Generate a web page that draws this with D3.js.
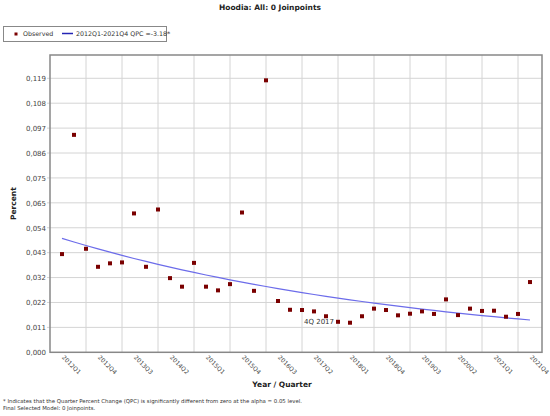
<!DOCTYPE html>
<html>
<head>
<meta charset="utf-8">
<script src="https://cdn.jsdelivr.net/npm/d3@7"></script>
<style>
  body { margin: 0; background: #fff; }
  svg { display: block; }
</style>
</head>
<body>
<script>
// quarters 2012Q1 .. 2021Q4
var quarters = [
  '2012Q1','2012Q2','2012Q3','2012Q4','2013Q1','2013Q2','2013Q3','2013Q4',
  '2014Q1','2014Q2','2014Q3','2014Q4','2015Q1','2015Q2','2015Q3','2015Q4',
  '2016Q1','2016Q2','2016Q3','2016Q4','2017Q1','2017Q2','2017Q3','2017Q4',
  '2018Q1','2018Q2','2018Q3','2018Q4','2019Q1','2019Q2','2019Q3','2019Q4',
  '2020Q1','2020Q2','2020Q3','2020Q4','2021Q1','2021Q2','2021Q3','2021Q4'
];

var observed = [
  0.0425, 0.0941, 0.0448, 0.0370, 0.0385, 0.0389, 0.0601, 0.0370,
  0.0618, 0.0321, 0.0284, 0.0387, 0.0284, 0.0268, 0.0295, 0.0605,
  0.0266, 0.1177, 0.0222, 0.0184, 0.0183, 0.0177, 0.0156, 0.0132,
  0.0128, 0.0156, 0.0189, 0.0183, 0.0160, 0.0167, 0.0177, 0.0166,
  0.0229, 0.0161, 0.0189, 0.0179, 0.0180, 0.0154, 0.0166, 0.0304
];

// fitted model, 0 joinpoints
var trendStart = 0.0493;
var qpc = -3.18;

var yTickValues = [0, 0.01078, 0.02156, 0.03234, 0.04312, 0.0539, 0.06468, 0.07546, 0.08624, 0.09702, 0.1078, 0.11858];
var yTickLabels = ['0,000','0,011','0,022','0,032','0,043','0,054','0,065','0,075','0,086','0,097','0,108','0,119'];

var xLabelQuarters = ['2012Q1','2012Q4','2013Q3','2014Q2','2015Q1','2015Q4','2016Q3','2017Q2','2018Q1','2018Q4','2019Q3','2020Q2','2021Q1','2021Q4'];
var xGridQuarters = ['2012Q3','2013Q2','2014Q1','2014Q4','2015Q3','2016Q2','2017Q1','2017Q4','2018Q3','2019Q2','2020Q1','2020Q4','2021Q3'];

var annotation = { quarter: '2017Q4', text: '4Q 2017' };

var width = 550, height = 416;
var plotLeft = 50, plotRight = 542, plotTop = 55, plotBottom = 352.3;

var svg = d3.select('body').append('svg')
    .attr('width', width)
    .attr('height', height)
    .style('font-family', 'DejaVu Sans, sans-serif');

var x = d3.scaleLinear()
    .domain([-1, quarters.length])
    .range([plotLeft, plotRight]);

var y = d3.scaleLinear()
    .domain([0, 0.12866])
    .range([plotBottom, plotTop]);

function qx(q) { return x(quarters.indexOf(q)); }

// grid
svg.append('g').selectAll('line')
    .data(yTickValues.slice(1))
    .enter().append('line')
        .attr('x1', plotLeft - 3).attr('x2', plotRight)
        .attr('y1', function(d) { return y(d) }).attr('y2', function(d) { return y(d) })
        .attr('stroke', '#d4d4d4').attr('stroke-width', 1);

svg.append('g').selectAll('line')
    .data(xGridQuarters)
    .enter().append('line')
        .attr('x1', function(d) { return qx(d) }).attr('x2', function(d) { return qx(d) })
        .attr('y1', plotTop).attr('y2', plotBottom)
        .attr('stroke', '#d4d4d4').attr('stroke-width', 1);

// frame
svg.append('rect')
    .attr('x', plotLeft).attr('y', plotTop)
    .attr('width', plotRight - plotLeft).attr('height', plotBottom - plotTop)
    .attr('fill', 'none').attr('stroke', '#888').attr('stroke-width', 1.5);

// y axis
var yAxis = d3.axisLeft(y)
    .tickValues(yTickValues)
    .tickSize(0)
    .tickPadding(4)
    .tickFormat(function(d, i) { return yTickLabels[i]; });

var gy = svg.append('g')
    .attr('transform', 'translate(' + plotLeft + ',0)')
    .call(yAxis);
gy.select('.domain').remove();
gy.selectAll('text')
    .style('font-family', 'DejaVu Sans, sans-serif')
    .style('font-size', '7px')
    .attr('fill', '#444');

// x axis labels
svg.append('g').selectAll('text')
    .data(xLabelQuarters)
    .enter().append('text')
        .attr('transform', function(d) { return 'translate(' + (qx(d) + 1) + ',' + (plotBottom + 4) + ') rotate(45)' })
        .attr('font-size', '6px')
        .attr('fill', '#444')
        .attr('dy', '0.35em')
        .text(function(d) { return d });

// trend
var trend = quarters.map(function(q, i) { return trendStart * Math.pow(1 + qpc / 100, i); });
var line = d3.line()
    .x(function(d, i) { return x(i) })
    .y(function(d) { return y(d) });

svg.append('path')
    .datum(trend)
    .attr('d', line)
    .attr('fill', 'none')
    .attr('stroke', '#6c6cea')
    .attr('stroke-width', 1.2);

// points
svg.append('g').selectAll('rect')
    .data(observed)
    .enter().append('rect')
        .attr('x', function(d, i) { return x(i) - 2 })
        .attr('y', function(d) { return y(d) - 2 })
        .attr('width', 4).attr('height', 4)
        .attr('fill', '#7a0000');

// annotation
var ai = quarters.indexOf(annotation.quarter);
svg.append('text')
    .attr('x', x(ai) - 4)
    .attr('y', y(observed[ai]))
    .attr('dy', '0.35em')
    .attr('text-anchor', 'end')
    .attr('font-size', '7px')
    .attr('fill', '#333')
    .text(annotation.text);

// title
svg.append('text')
    .attr('x', 270).attr('y', 10)
    .attr('text-anchor', 'middle')
    .attr('font-size', '7.5px')
    .attr('font-weight', 'bold')
    .attr('fill', '#222')
    .text('Hoodia: All: 0 Joinpoints');

// legend
var lg = svg.append('g');
lg.append('rect')
    .attr('x', 3.5).attr('y', 26.5)
    .attr('width', 163).attr('height', 15)
    .attr('fill', '#fff').attr('stroke', '#888').attr('stroke-width', 1);
lg.append('rect')
    .attr('x', 14.5).attr('y', 32.5).attr('width', 3).attr('height', 3)
    .attr('fill', '#7a0000');
lg.append('text')
    .attr('x', 23).attr('y', 34).attr('dy', '0.35em')
    .attr('font-size', '6.3px').attr('fill', '#333')
    .text('Observed');
lg.append('line')
    .attr('x1', 62).attr('x2', 73).attr('y1', 33.5).attr('y2', 33.5)
    .attr('stroke', '#2424b4').attr('stroke-width', 1.5);
lg.append('text')
    .attr('x', 76).attr('y', 34).attr('dy', '0.35em')
    .attr('font-size', '6.3px').attr('fill', '#333')
    .text(quarters[0] + '-' + quarters[quarters.length - 1] + ' QPC =' + qpc.toFixed(2) + '*');

// axis titles
svg.append('text')
    .attr('transform', 'translate(16,' + ((plotTop + plotBottom) / 2) + ') rotate(-90)')
    .attr('text-anchor', 'middle')
    .attr('font-size', '7.5px')
    .attr('font-weight', 'bold')
    .attr('fill', '#222')
    .text('Percent');

svg.append('text')
    .attr('x', 282).attr('y', 387)
    .attr('text-anchor', 'middle')
    .attr('font-size', '7.5px')
    .attr('font-weight', 'bold')
    .attr('fill', '#222')
    .text('Year / Quarter');

// footnotes
svg.append('text')
    .attr('x', 3).attr('y', 403)
    .attr('font-size', '5.4px').attr('fill', '#333')
    .text('* Indicates that the Quarter Percent Change (QPC) is significantly different from zero at the alpha = 0.05 level.');
svg.append('text')
    .attr('x', 3).attr('y', 410)
    .attr('font-size', '5.4px').attr('fill', '#333')
    .text('Final Selected Model: 0 Joinpoints.');
</script>
</body>
</html>
